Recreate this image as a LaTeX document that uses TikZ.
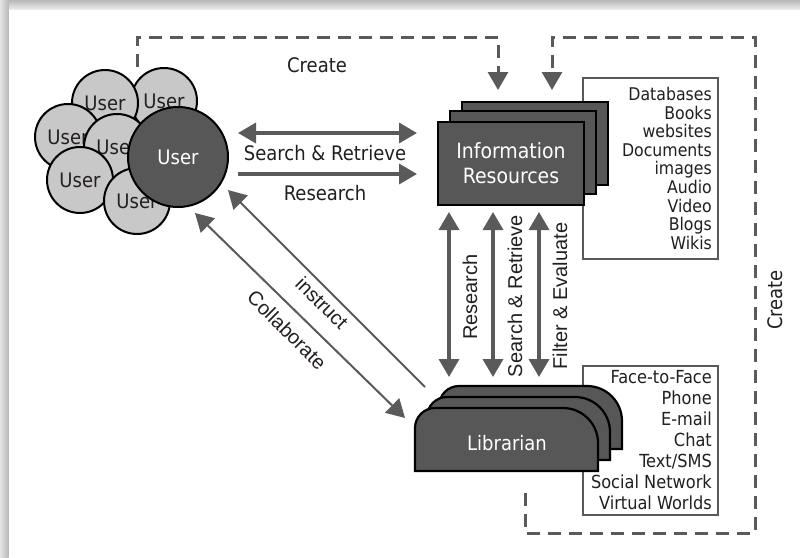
\documentclass[tikz,border=0pt]{standalone}
\usepackage{fontspec}
\setmainfont{DejaVu Sans Condensed}
\newfontfamily\arialfont{Liberation Sans}
\usetikzlibrary{arrows.meta}

\definecolor{boxgrey}{HTML}{575757}
\definecolor{linegrey}{HTML}{5A5A5A}
\definecolor{usergrey}{HTML}{C8C8C8}
\definecolor{inkgrey}{HTML}{231F20}

\begin{document}
\begin{tikzpicture}[>={Triangle[length=18pt,width=20pt]}, x=1pt, y=-1pt,
    font=\fontsize{20}{24}\selectfont, every node/.style={text=inkgrey},
    usr/.style={circle, draw=black, line width=2pt, fill=usergrey, minimum size=66pt, inner sep=0pt},
    stack/.style={rectangle, draw=black, line width=2pt, fill=boxgrey, minimum width=146pt, minimum height=83pt},
    flow/.style={->, line width=3.5pt, draw=linegrey},
    slim/.style={->, line width=2pt, draw=linegrey},
    create/.style={->, line width=3pt, draw=linegrey, dash pattern=on 13pt off 8pt},
    tag/.style={font=\arialfont\fontsize{20}{24}\selectfont}]
  \newcommand{\libcard}[2]{%
    \filldraw[fill=boxgrey, draw=black, line width=2.2pt, shift={(#1,#2)}]
      (415,471) -- (415,428) arc[start angle=180, end angle=270, radius=20]
      -- (563,408) arc[start angle=270, end angle=360, radius=35] -- (598,471) -- cycle;
  }
  \useasboundingbox (0,0) rectangle (800,557);
  % ---------------------------------------------------------------- frame
  \fill[white] (0,0) rectangle (800,557);
  \shade[top color=black!28, bottom color=black!8] (0,0) rectangle (800,9);
  \shade[left color=black!10, right color=black!28] (0,0) rectangle (8.5,557);
  % ---------------------------------------------------------------- users
  \node[usr] (usr2) at (164,101) {User};
  \node[usr] (usr1) at (105,103) {User};
  \node[usr] (usr3) at (68,137) {User};
  \node[usr] (usr4) at (117,147) {User};
  \node[usr] (usr5) at (80,180) {User};
  \node[usr] (usr6) at (137,201) {User};
  \node[usr, fill=boxgrey, minimum size=100pt, text=white] (user) at (178,157) {User};
  % ---------------------------------------------------------------- information resources
  \node[draw=black!65, line width=1.5pt, fill=white, minimum width=135pt, minimum height=181pt] (irbox) at (650.5,168.5) {};
  \node[anchor=north east, align=right, inner sep=0pt, font=\fontsize{17.5}{18.6}\selectfont] (irlist) at (712,87)
    {Databases\\Books\\websites\\Documents\\images\\Audio\\Video\\Blogs\\Wikis};
  \node[stack] (ir3) at (535,143.5) {};
  \node[stack] (ir2) at (523,152) {};
  \node[stack, text=white, align=center, font=\fontsize{21}{25}\selectfont] (ir) at (511,163.5) {Information\\Resources};
  % ---------------------------------------------------------------- librarian
  \node[draw=black!65, line width=1.5pt, fill=white, minimum width=135pt, minimum height=149pt] (libbox) at (650.5,440.5) {};
  \node[anchor=north east, align=right, inner sep=0pt, font=\fontsize{18}{21}\selectfont] (liblist) at (712,370)
    {Face-to-Face\\Phone\\E-mail\\Chat\\Text/SMS\\Social Network\\Virtual Worlds};
  \libcard{24}{-22}
  \libcard{12}{-11}
  \libcard{0}{0}
  \node[text=white] (lib) at (507,443) {Librarian};
  % ---------------------------------------------------------------- user <-> resources
  \coordinate (sr-u) at (238,133);  \coordinate (sr-ir) at (417,133);
  \coordinate (rs-u) at (238,174);  \coordinate (rs-ir) at (417,174);
  \draw[flow, <->] (sr-u) -- (sr-ir);
  \draw[flow] (rs-u) -- (rs-ir);
  \node (srlabel) at (325,153) {Search \& Retrieve};
  \node (rslabel) at (325,193) {Research};
  % ---------------------------------------------------------------- resources <-> librarian
  \coordinate (v1-ir) at (449,212);  \coordinate (v1-lib) at (449,377);
  \coordinate (v2-ir) at (493,212);  \coordinate (v2-lib) at (493,377);
  \coordinate (v3-ir) at (539,212);  \coordinate (v3-lib) at (539,377);
  \draw[flow, <->] (v1-lib) -- (v1-ir);
  \draw[flow, <->] (v2-lib) -- (v2-ir);
  \draw[flow, <->] (v3-lib) -- (v3-ir);
  \node[tag, rotate=90] (v1label) at (470,297) {Research};
  \node[tag, rotate=90] (v2label) at (515,296) {Search \& Retrieve};
  \node[tag, rotate=90] (v3label) at (560,296) {Filter \& Evaluate};
  % ---------------------------------------------------------------- librarian <-> user
  \coordinate (in-lib) at (425,387);  \coordinate (in-u) at (228,190);
  \coordinate (co-u) at (195,213);    \coordinate (co-lib) at (405,418);
  \draw[slim] (in-lib) -- (in-u);
  \draw[slim, <->] (co-u) -- (co-lib);
  \node[tag, rotate=-45] (inlabel) at (322,303) {instruct};
  \node[tag, rotate=-45] (colabel) at (287,330) {Collaborate};
  % ---------------------------------------------------------------- create
  \coordinate (cr-u) at (137,67);    \coordinate (cr-ir1) at (498,90);
  \coordinate (cr-lib) at (525,493); \coordinate (cr-ir2) at (552,90);
  \draw[create] (cr-u) -- (137,37) -- (498,37) -- (cr-ir1);
  \draw[create] (cr-lib) -- (525,533) -- (755,533) -- (755,37) -- (552,37) -- (cr-ir2);
  \node (crlabel1) at (317,65) {Create};
  \node[rotate=90] (crlabel2) at (775,300) {Create};
\end{tikzpicture}
\end{document}
